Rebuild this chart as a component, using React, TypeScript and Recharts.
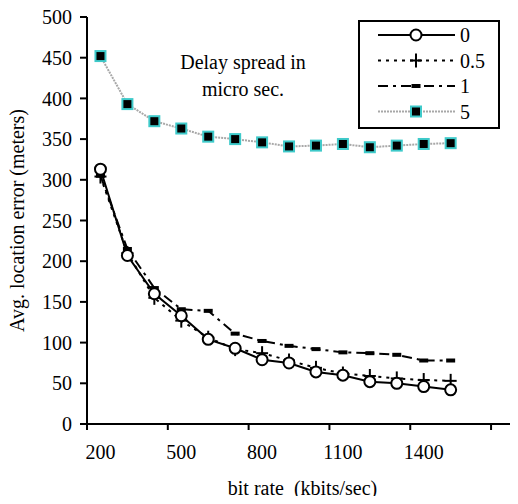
import React from 'react';
import { LineChart, Line, XAxis, YAxis, Label } from 'recharts';

// bit rate categories (kbits/sec)
const bitRates = [200, 300, 400, 500, 600, 700, 800, 900, 1000, 1100, 1200, 1300, 1400, 1500];

// avg. location error (meters) per delay spread (micro sec.)
const spread0 = [313, 207, 160, 133, 104, 93, 79, 75, 64, 60, 52, 50, 46, 42];
const spread05 = [304, 210, 155, 127, 106, 92, 87, 78, 69, 62, 59, 56, 54, 53];
const spread1 = [305, 215, 167, 141, 139, 111, 102, 96, 92, 88, 87, 85, 78, 78];
const spread5 = [452, 393, 372, 363, 353, 350, 346, 341, 342, 344, 340, 342, 344, 345];

const xTickLabels = [200, 500, 800, 1100, 1400];
const xTickMarks = [150, 450, 750, 1050, 1350, 1650];
const yTicks = [0, 50, 100, 150, 200, 250, 300, 350, 400, 450, 500];

const data = bitRates.map((rate, i) => ({
  rate,
  s0: spread0[i],
  s05: spread05[i],
  s1: spread1[i],
  s5: spread5[i],
}));

const W = 518;
const H = 504;
const Y_AXIS_W = 87;
const X_AXIS_H = 80;
const TOP = 17;
const PLOT_W = W - Y_AXIS_W;
const HALF_CAT = PLOT_W / 16 / 2;
const FONT = 'Liberation Serif, DejaVu Serif, serif';
const CYAN = '#3ECACA';

type Shape = 'circle' | 'plus' | 'dash' | 'square';

function Marker({ cx, cy, shape }: { cx: number; cy: number; shape: Shape }) {
  if (cx == null || cy == null) return null;
  if (shape === 'circle')
    return <circle cx={cx} cy={cy} r={5.5} fill="#fff" stroke="#000" strokeWidth={2} />;
  if (shape === 'plus')
    return (
      <g stroke="#000" strokeWidth={2}>
        <line x1={cx - 6} y1={cy} x2={cx + 6} y2={cy} />
        <line x1={cx} y1={cy - 7} x2={cx} y2={cy + 7} />
      </g>
    );
  if (shape === 'dash') return <rect x={cx - 4.5} y={cy - 2} width={9} height={4} fill="#000" />;
  return <rect x={cx - 5} y={cy - 5} width={10} height={10} fill="#000" stroke={CYAN} strokeWidth={2} />;
}

const series: { key: string; name: string; dash?: string; color: string; width: number; shape: Shape }[] = [
  { key: 's5', name: '5', dash: '2 1', color: '#a8a8a8', width: 2, shape: 'square' },
  { key: 's1', name: '1', dash: '10 5 3 5', color: '#000', width: 2, shape: 'dash' },
  { key: 's05', name: '0.5', dash: '3 5', color: '#000', width: 2, shape: 'plus' },
  { key: 's0', name: '0', color: '#000', width: 2, shape: 'circle' },
];

const legendOrder = ['s0', 's05', 's1', 's5'];

function XTick(props: any) {
  const { x, y, payload } = props;
  const v = payload.value + 50;
  if (!xTickLabels.includes(v)) return null;
  return (
    <text x={x + HALF_CAT} y={y} dy="0.71em" textAnchor="middle" fontFamily={FONT} fontSize={20} fill="#000">
      {v}
    </text>
  );
}

function ChartLegend() {
  return (
    <div
      style={{
        position: 'absolute',
        left: 358,
        top: 20,
        width: 142,
        height: 109,
        boxSizing: 'border-box',
        border: '2px solid #000',
        background: '#fff',
      }}
    >
      <svg width={138} height={105}>
        {legendOrder.map((k, i) => {
          const s = series.find((d) => d.key === k)!;
          const y = 13 + i * 25.5;
          return (
            <g key={k}>
              <line x1={18} y1={y} x2={95} y2={y} stroke={s.color} strokeWidth={s.width} strokeDasharray={s.dash} />
              <Marker cx={56} cy={y} shape={s.shape} />
              <text x={100} y={y} dy="0.35em" fontFamily={FONT} fontSize={20} fill="#000">
                {s.name}
              </text>
            </g>
          );
        })}
      </svg>
    </div>
  );
}

export default function App() {
  return (
    <div style={{ margin: -8, position: 'relative', width: W, height: H, overflow: 'hidden', background: '#fff' }}>
      <LineChart width={W} height={H} data={data} margin={{ top: TOP, right: 0, bottom: 0, left: 0 }}>
        <XAxis
          dataKey="rate"
          type="number"
          domain={[150, 1750]}
          ticks={xTickMarks}
          interval={0}
          height={X_AXIS_H}
          stroke="#000"
          strokeWidth={2}
          tickSize={6}
          tickMargin={15}
          tickLine={{ stroke: '#000', strokeWidth: 2 }}
          tick={<XTick />}
        >
          <Label
            content={(p: any) => (
              <text
                x={p.viewBox.x + p.viewBox.width / 2}
                y={p.viewBox.y + 71}
                textAnchor="middle"
                fontFamily={FONT}
                fontSize={20}
                fill="#000"
                style={{ whiteSpace: 'pre' }}
              >
                {'bit rate  (kbits/sec)'}
              </text>
            )}
          />
        </XAxis>
        <YAxis
          type="number"
          domain={[0, 500]}
          ticks={yTicks}
          interval={0}
          width={Y_AXIS_W}
          stroke="#000"
          strokeWidth={2}
          tickSize={7}
          tickMargin={8}
          tickLine={{ stroke: '#000', strokeWidth: 2 }}
          tick={{ fill: '#000', fontFamily: FONT, fontSize: 20 }}
        >
          <Label
            content={(p: any) => {
              const cx = p.viewBox.x + 17;
              const cy = p.viewBox.y + p.viewBox.height / 2;
              return (
                <text
                  x={cx}
                  y={cy}
                  transform={`rotate(-90 ${cx} ${cy})`}
                  textAnchor="middle"
                  dy="0.35em"
                  fontFamily={FONT}
                  fontSize={20}
                  fill="#000"
                >
                  Avg. location error (meters)
                </text>
              );
            }}
          />
        </YAxis>
        {series.map((s) => (
          <Line
            key={s.key}
            dataKey={s.key}
            name={s.name}
            type="linear"
            stroke={s.color}
            strokeWidth={s.width}
            strokeDasharray={s.dash}
            isAnimationActive={false}
            activeDot={false}
            dot={(p: any) => <Marker key={`${s.key}-${p.index}`} cx={p.cx} cy={p.cy} shape={s.shape} />}
          />
        ))}
      </LineChart>
      <div
        style={{
          position: 'absolute',
          left: 163,
          top: 49,
          width: 160,
          textAlign: 'center',
          fontFamily: FONT,
          fontSize: 20,
          lineHeight: '27px',
        }}
      >
        Delay spread in
        <br />
        micro sec.
      </div>
      <ChartLegend />
    </div>
  );
}
